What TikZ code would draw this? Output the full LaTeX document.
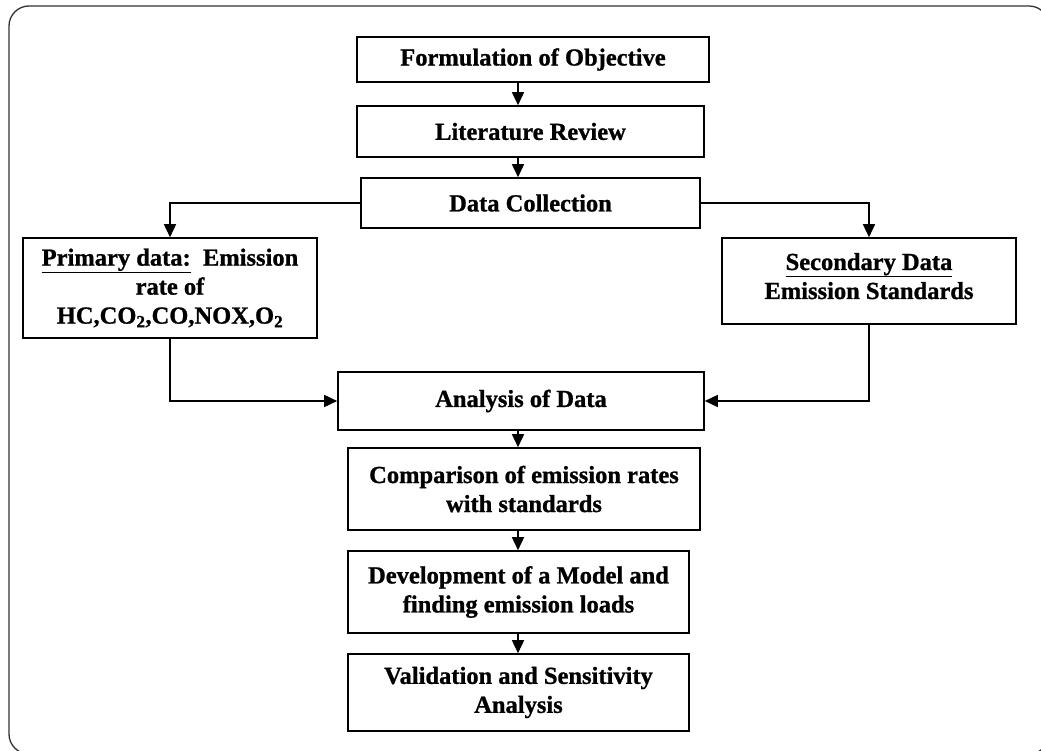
\documentclass[tikz,border=0pt]{standalone}
\usepackage{fontspec}
\setmainfont{Liberation Serif}[BoldFeatures={FakeBold=1}]
\usetikzlibrary{arrows.meta}
\begin{document}
\begin{tikzpicture}[x=1pt,y=-1pt,
  box/.style={draw=black, line width=1.6pt, rectangle, inner sep=0pt, align=center,
    font=\fontsize{24.5}{29}\selectfont\bfseries},
  arr/.style={line width=1.6pt, -{Triangle[length=13pt,width=12pt]}},
  frame/.style={draw=black!80, line width=1.3pt, rounded corners=20pt}]
\useasboundingbox (0,0) rectangle (1041,751);
\draw[frame] (9,6) rectangle (1049,754);
\node[box, minimum width=352pt, minimum height=45pt] (form) at (533,59.5) {Formulation of Objective};
\node[box, minimum width=347pt, minimum height=51pt] (lit) at (530.5,131.5) {Literature Review};
\node[box, minimum width=339pt, minimum height=50pt] (data) at (530.5,203) {Data Collection};
\node[box, minimum width=294pt, minimum height=100pt] (prim) at (170,288) {\underline{Primary data:}\ \ Emission\\rate of\\HC,CO\textsubscript{2},CO,NOX,O\textsubscript{2}};
\node[box, minimum width=294pt, minimum height=86pt] (sec) at (869,281) {\underline{Secondary Data}\\Emission Standards\\[-19pt]\mbox{}};
\node[box, minimum width=366pt, minimum height=58pt] (anal) at (521,401) {Analysis of Data};
\node[box, minimum width=352pt, minimum height=82pt] (comp) at (524,489) {Comparison of emission rates\\with standards};
\node[box, minimum width=341pt, minimum height=82pt] (dev) at (518.5,592) {Development of a Model and\\finding emission loads};
\node[box, minimum width=341pt, minimum height=77pt] (val) at (518.5,692.5) {Validation and Sensitivity\\Analysis};
\coordinate (ax) at (518,0);
\draw[arr] (ax |- form.south) -- (ax |- lit.north);
\draw[arr] (ax |- lit.south) -- (ax |- data.north);
\draw[arr] (data.west) -| (prim.north);
\draw[arr] (data.east) -| (sec.north);
\draw[arr] (prim.south) |- (anal.west);
\draw[arr] (sec.south) |- (anal.east);
\draw[arr] (ax |- anal.south) -- (ax |- comp.north);
\draw[arr] (ax |- comp.south) -- (ax |- dev.north);
\draw[arr] (ax |- dev.south) -- (ax |- val.north);
\end{tikzpicture}
\end{document}
